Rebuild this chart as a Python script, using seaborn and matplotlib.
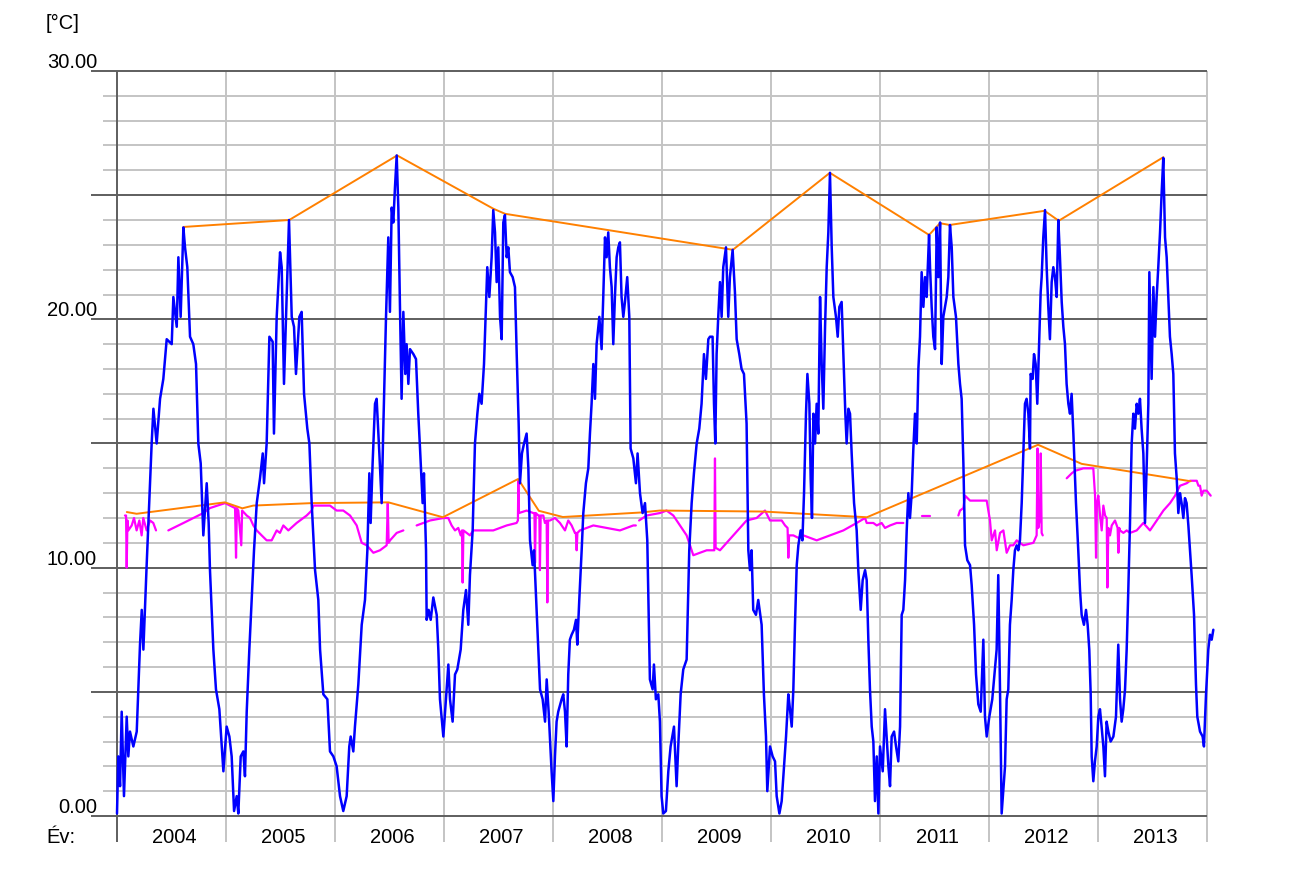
import numpy as np
import pandas as pd
import matplotlib
matplotlib.use("Agg")
import matplotlib.pyplot as plt
import seaborn as sns

# --- adatok (leolvasva az ábráról) ---
# kék: napi vízhőmérséklet, évenként (év, °C)
b2004 = [(2004.000, 0.1), (2004.012, 2.4), (2004.028, 1.2), (2004.043, 4.2), (2004.064, 0.8), (2004.089, 4.0),
         (2004.104, 2.4), (2004.119, 3.4), (2004.150, 2.8), (2004.181, 3.4), (2004.211, 6.9), (2004.227, 8.3),
         (2004.242, 6.7), (2004.272, 10.1), (2004.303, 13.4), (2004.318, 15.0), (2004.334, 16.4), (2004.364, 15.0),
         (2004.395, 16.8), (2004.425, 17.6), (2004.456, 19.2), (2004.502, 19.0), (2004.517, 20.9), (2004.548, 19.7),
         (2004.563, 22.5), (2004.584, 20.1), (2004.609, 23.7), (2004.624, 22.9), (2004.645, 22.1), (2004.670, 19.3),
         (2004.700, 19.0), (2004.725, 18.2), (2004.746, 15.0), (2004.768, 14.2), (2004.792, 11.3), (2004.823, 13.4),
         (2004.841, 11.8), (2004.853, 9.9), (2004.884, 6.7), (2004.908, 5.1), (2004.939, 4.3), (2004.976, 1.8)]
b2005 = [(2005.006, 3.6), (2005.031, 3.2), (2005.052, 2.4), (2005.074, 0.2), (2005.098, 0.8), (2005.113, 0.1),
         (2005.135, 2.4), (2005.159, 2.6), (2005.174, 1.6), (2005.190, 4.2), (2005.214, 6.7), (2005.236, 8.7),
         (2005.257, 10.7), (2005.282, 12.6), (2005.312, 13.6), (2005.337, 14.6), (2005.349, 13.4), (2005.373, 15.0),
         (2005.398, 19.3), (2005.428, 19.1), (2005.440, 15.4), (2005.465, 20.1), (2005.496, 22.7), (2005.511, 22.1),
         (2005.532, 17.4), (2005.551, 20.1), (2005.578, 24.0), (2005.603, 20.1), (2005.624, 19.7), (2005.642, 17.8),
         (2005.673, 20.1), (2005.694, 20.3), (2005.716, 17.0), (2005.746, 15.6), (2005.765, 15.0), (2005.786, 12.6),
         (2005.817, 9.9), (2005.847, 8.7), (2005.863, 6.7), (2005.893, 4.9), (2005.930, 4.7), (2005.954, 2.6),
         (2005.985, 2.4)]
b2006 = [(2006.015, 2.0), (2006.046, 0.8), (2006.076, 0.2), (2006.107, 0.8), (2006.131, 2.8), (2006.144, 3.2),
         (2006.168, 2.6), (2006.183, 3.6), (2006.214, 5.3), (2006.245, 7.7), (2006.275, 8.7), (2006.297, 10.7),
         (2006.315, 13.8), (2006.327, 11.8), (2006.345, 14.2), (2006.367, 16.6), (2006.382, 16.8), (2006.407, 14.6),
         (2006.428, 12.6), (2006.443, 15.6), (2006.468, 20.1), (2006.489, 23.3), (2006.504, 20.3), (2006.520, 24.5),
         (2006.535, 23.9), (2006.550, 25.3), (2006.566, 26.6), (2006.581, 24.5), (2006.596, 20.5), (2006.611, 16.8),
         (2006.627, 20.3), (2006.645, 17.8), (2006.657, 19.0), (2006.673, 17.4), (2006.688, 18.8), (2006.719, 18.6),
         (2006.743, 18.4), (2006.764, 16.2), (2006.780, 14.8), (2006.804, 12.6), (2006.816, 13.8), (2006.835, 10.7),
         (2006.841, 7.9), (2006.859, 8.3), (2006.878, 7.9), (2006.902, 8.8), (2006.933, 8.1), (2006.948, 6.7),
         (2006.963, 4.7), (2006.994, 3.2)]
b2007 = [(2007.018, 4.7), (2007.040, 6.1), (2007.055, 4.7), (2007.079, 3.8), (2007.101, 5.7), (2007.122, 5.9),
         (2007.153, 6.7), (2007.177, 8.3), (2007.202, 9.1), (2007.223, 7.7), (2007.238, 9.7), (2007.263, 11.5),
         (2007.284, 15.0), (2007.306, 16.2), (2007.324, 17.0), (2007.345, 16.6), (2007.367, 18.2), (2007.385, 20.5),
         (2007.397, 22.1), (2007.416, 20.9), (2007.437, 22.5), (2007.452, 24.4), (2007.468, 23.5), (2007.483, 21.5),
         (2007.498, 22.9), (2007.514, 20.1), (2007.529, 19.2), (2007.544, 23.9), (2007.559, 24.2), (2007.575, 22.5),
         (2007.590, 22.9), (2007.605, 21.9), (2007.630, 21.7), (2007.651, 21.3), (2007.667, 18.6), (2007.685, 15.8),
         (2007.697, 13.4), (2007.715, 14.6), (2007.734, 15.0), (2007.758, 15.4), (2007.774, 14.0), (2007.789, 11.1),
         (2007.813, 10.1), (2007.826, 10.7), (2007.850, 8.3), (2007.881, 5.1), (2007.905, 4.7), (2007.927, 3.8),
         (2007.942, 5.5), (2007.960, 4.2), (2007.987, 1.8)]
b2008 = [(2008.003, 0.6), (2008.018, 2.4), (2008.033, 3.8), (2008.048, 4.2), (2008.079, 4.7), (2008.094, 4.9),
         (2008.110, 4.2), (2008.125, 2.8), (2008.140, 5.7), (2008.155, 7.1), (2008.171, 7.3), (2008.192, 7.5),
         (2008.211, 7.9), (2008.223, 6.9), (2008.241, 8.7), (2008.263, 10.7), (2008.278, 12.2), (2008.302, 13.4),
         (2008.324, 14.0), (2008.339, 15.4), (2008.354, 16.6), (2008.370, 18.2), (2008.385, 16.8), (2008.400, 19.0),
         (2008.425, 20.1), (2008.446, 18.8), (2008.461, 20.9), (2008.477, 23.3), (2008.492, 22.5), (2008.507, 23.5),
         (2008.522, 22.1), (2008.538, 21.3), (2008.553, 19.0), (2008.568, 20.9), (2008.584, 22.5), (2008.599, 22.9),
         (2008.614, 23.1), (2008.629, 20.9), (2008.645, 20.1), (2008.660, 20.7), (2008.681, 21.7), (2008.700, 20.1),
         (2008.712, 14.8), (2008.737, 14.4), (2008.761, 13.4), (2008.776, 14.6), (2008.798, 13.0), (2008.822, 12.2),
         (2008.844, 12.6), (2008.865, 11.1), (2008.889, 5.5), (2008.914, 5.1), (2008.926, 6.1), (2008.944, 4.7),
         (2008.966, 4.9), (2008.981, 3.8), (2008.996, 0.8)]
b2009 = [(2009.012, 0.1), (2009.036, 0.2), (2009.058, 1.8), (2009.079, 2.8), (2009.110, 3.6), (2009.134, 1.2),
         (2009.149, 2.8), (2009.171, 4.9), (2009.195, 5.9), (2009.226, 6.3), (2009.250, 10.7), (2009.272, 12.6),
         (2009.293, 13.8), (2009.318, 15.0), (2009.342, 15.6), (2009.363, 16.6), (2009.385, 18.6), (2009.403, 17.6),
         (2009.425, 19.2), (2009.440, 19.3), (2009.464, 19.3), (2009.477, 16.6), (2009.489, 15.0), (2009.501, 18.6),
         (2009.516, 20.1), (2009.532, 21.5), (2009.547, 20.1), (2009.562, 22.1), (2009.587, 22.9), (2009.608, 20.1),
         (2009.623, 21.7), (2009.648, 22.8), (2009.669, 21.1), (2009.685, 19.2), (2009.709, 18.6), (2009.730, 18.0),
         (2009.752, 17.8), (2009.776, 15.8), (2009.792, 10.7), (2009.807, 9.9), (2009.822, 10.7), (2009.837, 8.3),
         (2009.862, 8.1), (2009.883, 8.7), (2009.914, 7.7), (2009.935, 4.9), (2009.954, 3.2), (2009.966, 1.0),
         (2009.991, 2.8)]
b2010 = [(2010.015, 2.4), (2010.037, 2.2), (2010.052, 0.8), (2010.077, 0.1), (2010.098, 0.6), (2010.119, 2.0),
         (2010.138, 3.2), (2010.159, 4.9), (2010.174, 4.3), (2010.190, 3.6), (2010.205, 5.1), (2010.220, 7.7),
         (2010.236, 10.1), (2010.251, 10.9), (2010.272, 11.5), (2010.288, 11.1), (2010.303, 13.0), (2010.321, 16.2),
         (2010.334, 17.8), (2010.352, 16.6), (2010.364, 13.6), (2010.376, 12.0), (2010.389, 16.2), (2010.404, 15.0),
         (2010.419, 16.6), (2010.434, 15.4), (2010.450, 20.9), (2010.465, 18.2), (2010.480, 16.4), (2010.496, 19.7),
         (2010.511, 22.1), (2010.526, 23.5), (2010.541, 25.9), (2010.557, 22.9), (2010.572, 20.9), (2010.596, 20.1),
         (2010.612, 19.3), (2010.627, 20.5), (2010.648, 20.7), (2010.664, 18.6), (2010.682, 16.2), (2010.694, 15.0),
         (2010.710, 16.4), (2010.725, 16.2), (2010.740, 14.6), (2010.762, 12.6), (2010.786, 11.5), (2010.801, 9.9),
         (2010.823, 8.3), (2010.841, 9.5), (2010.863, 9.9), (2010.878, 9.5), (2010.893, 7.1), (2010.908, 5.1),
         (2010.924, 3.6), (2010.939, 3.0), (2010.954, 0.6), (2010.970, 2.4), (2010.985, 0.1)]
b2011 = [(2011.000, 2.8), (2011.025, 1.8), (2011.046, 4.3), (2011.061, 3.2), (2011.077, 2.0), (2011.092, 1.2),
         (2011.107, 3.2), (2011.129, 3.4), (2011.147, 2.8), (2011.168, 2.2), (2011.184, 3.6), (2011.199, 8.1),
         (2011.214, 8.3), (2011.230, 9.5), (2011.245, 11.5), (2011.260, 13.0), (2011.275, 12.0), (2011.291, 13.0),
         (2011.306, 14.8), (2011.321, 16.2), (2011.337, 15.0), (2011.352, 18.0), (2011.367, 19.3), (2011.382, 21.9),
         (2011.398, 20.5), (2011.413, 21.7), (2011.428, 20.9), (2011.450, 23.4), (2011.459, 22.1), (2011.474, 20.5),
         (2011.489, 19.3), (2011.505, 18.8), (2011.520, 23.7), (2011.535, 21.7), (2011.551, 23.9), (2011.566, 18.2),
         (2011.581, 20.1), (2011.596, 20.5), (2011.612, 20.9), (2011.627, 21.7), (2011.642, 23.8), (2011.658, 22.9),
         (2011.673, 20.9), (2011.697, 20.1), (2011.719, 18.2), (2011.734, 17.4), (2011.749, 16.8), (2011.765, 14.2),
         (2011.780, 10.9), (2011.801, 10.3), (2011.826, 10.1), (2011.841, 9.3), (2011.863, 7.7), (2011.881, 5.7),
         (2011.902, 4.5), (2011.924, 4.2), (2011.948, 7.1), (2011.963, 4.0), (2011.979, 3.2), (2012.003, 4.0)]
b2012 = [(2012.030, 4.7), (2012.070, 6.7), (2012.085, 9.7), (2012.101, 5.1), (2012.116, 0.1), (2012.147, 2.0),
         (2012.162, 4.7), (2012.177, 5.1), (2012.192, 7.7), (2012.208, 8.7), (2012.223, 9.9), (2012.238, 10.7),
         (2012.254, 10.9), (2012.269, 10.7), (2012.284, 11.1), (2012.300, 12.6), (2012.315, 14.6), (2012.330, 16.6),
         (2012.345, 16.8), (2012.361, 16.2), (2012.376, 14.8), (2012.382, 17.8), (2012.400, 17.6), (2012.413, 18.6),
         (2012.428, 18.2), (2012.443, 16.6), (2012.462, 19.3), (2012.474, 21.1), (2012.483, 21.7), (2012.498, 23.3),
         (2012.514, 24.4), (2012.529, 22.1), (2012.544, 20.5), (2012.559, 19.2), (2012.575, 21.5), (2012.590, 22.1),
         (2012.605, 21.7), (2012.621, 20.9), (2012.636, 24.0), (2012.651, 22.5), (2012.667, 20.7), (2012.682, 19.7),
         (2012.697, 19.0), (2012.712, 17.4), (2012.728, 16.6), (2012.743, 16.2), (2012.758, 17.0), (2012.774, 15.4),
         (2012.798, 12.6), (2012.819, 10.7), (2012.835, 9.1), (2012.850, 8.1), (2012.871, 7.7), (2012.890, 8.3),
         (2012.905, 7.7), (2012.920, 6.7), (2012.933, 4.9), (2012.942, 2.4), (2012.957, 1.4), (2012.972, 2.2),
         (2012.988, 2.8)]
b2013 = [(2013.003, 4.0), (2013.018, 4.3), (2013.033, 3.6), (2013.049, 2.8), (2013.064, 1.6), (2013.079, 3.8),
         (2013.095, 3.4), (2013.116, 3.0), (2013.141, 3.2), (2013.165, 4.0), (2013.186, 6.9), (2013.202, 4.7),
         (2013.217, 3.8), (2013.232, 4.3), (2013.248, 5.1), (2013.263, 6.7), (2013.278, 9.1), (2013.293, 11.7),
         (2013.309, 15.0), (2013.324, 16.2), (2013.339, 15.6), (2013.355, 16.6), (2013.370, 16.2), (2013.385, 16.8),
         (2013.400, 15.6), (2013.416, 14.6), (2013.431, 11.8), (2013.446, 14.0), (2013.462, 16.6), (2013.471, 21.9),
         (2013.483, 19.5), (2013.492, 17.6), (2013.508, 21.3), (2013.523, 19.3), (2013.538, 20.9), (2013.553, 22.1),
         (2013.569, 23.5), (2013.584, 25.1), (2013.599, 26.5), (2013.615, 23.3), (2013.630, 22.5), (2013.645, 20.9),
         (2013.660, 19.3), (2013.676, 18.6), (2013.691, 17.8), (2013.706, 14.6), (2013.722, 13.6), (2013.737, 12.2),
         (2013.752, 13.0), (2013.767, 12.6), (2013.783, 12.0), (2013.798, 12.8), (2013.813, 12.6), (2013.829, 11.7),
         (2013.844, 10.7), (2013.859, 9.7), (2013.881, 8.1), (2013.899, 5.3), (2013.911, 4.0), (2013.936, 3.4),
         (2013.960, 3.2), (2013.972, 2.8), (2013.991, 4.9), (2014.012, 6.7), (2014.027, 7.3), (2014.043, 7.1),
         (2014.058, 7.5)]

# lila: másik mérési pont, szakaszokban (hiányos adatsor)
mag_a = [(2004.073, 12.1), (2004.083, 12.1), (2004.089, 10.0), (2004.096, 11.9), (2004.104, 11.5), (2004.135, 11.7),
         (2004.156, 12.0), (2004.180, 11.5), (2004.205, 11.9), (2004.226, 11.3), (2004.241, 12.0), (2004.272, 11.5),
         (2004.303, 11.9), (2004.333, 11.8), (2004.358, 11.5)]
mag_b = [(2004.471, 11.5), (2004.610, 11.8), (2004.792, 12.2), (2004.853, 12.4), (2004.991, 12.6), (2005.037, 12.5),
         (2005.083, 12.4), (2005.092, 10.4), (2005.100, 12.4), (2005.113, 12.3), (2005.140, 10.9), (2005.148, 12.3),
         (2005.190, 12.1), (2005.220, 12.0), (2005.251, 11.7), (2005.282, 11.5), (2005.327, 11.3), (2005.373, 11.1),
         (2005.419, 11.1), (2005.465, 11.5), (2005.495, 11.4), (2005.526, 11.7), (2005.572, 11.5), (2005.648, 11.8),
         (2005.740, 12.1), (2005.786, 12.3), (2005.801, 12.5), (2005.862, 12.5), (2005.954, 12.5), (2006.015, 12.3),
         (2006.076, 12.3), (2006.138, 12.1), (2006.199, 11.7), (2006.245, 11.0), (2006.291, 10.9), (2006.352, 10.6),
         (2006.413, 10.7), (2006.474, 10.9), (2006.484, 12.6), (2006.492, 11.0), (2006.505, 11.1), (2006.566, 11.4),
         (2006.627, 11.5)]
mag_c = [(2006.749, 11.7), (2006.872, 11.9), (2006.994, 12.0), (2007.039, 12.0), (2007.070, 11.7), (2007.101, 11.5),
         (2007.131, 11.6), (2007.153, 11.3), (2007.165, 11.5), (2007.171, 9.4), (2007.178, 11.5), (2007.208, 11.4),
         (2007.238, 11.3), (2007.269, 11.5), (2007.361, 11.5), (2007.452, 11.5), (2007.575, 11.7), (2007.666, 11.8),
         (2007.678, 11.9), (2007.682, 13.5), (2007.688, 12.2), (2007.758, 12.3), (2007.819, 12.2), (2007.830, 12.2),
         (2007.835, 10.2), (2007.842, 12.2), (2007.865, 12.1), (2007.875, 12.1), (2007.880, 9.9), (2007.887, 12.1),
         (2007.911, 12.1), (2007.926, 11.8), (2007.942, 11.9), (2007.948, 8.6), (2007.955, 11.9), (2007.972, 11.9),
         (2008.018, 12.0), (2008.064, 11.8), (2008.110, 11.5), (2008.140, 11.9), (2008.171, 11.7), (2008.201, 11.4),
         (2008.210, 11.4), (2008.217, 10.7), (2008.224, 11.4), (2008.247, 11.5), (2008.309, 11.6), (2008.370, 11.7),
         (2008.492, 11.6), (2008.614, 11.5), (2008.737, 11.7), (2008.760, 11.7)]
mag_d = [(2008.790, 11.9), (2008.859, 12.1), (2008.981, 12.2), (2009.042, 12.3), (2009.104, 12.1), (2009.165, 11.7),
         (2009.226, 11.3), (2009.257, 10.9), (2009.287, 10.5), (2009.348, 10.6), (2009.410, 10.7), (2009.471, 10.7),
         (2009.480, 10.7), (2009.486, 14.4), (2009.492, 10.8), (2009.532, 10.7), (2009.593, 11.0), (2009.654, 11.3),
         (2009.715, 11.6), (2009.776, 11.9), (2009.868, 12.0), (2009.945, 12.3), (2009.991, 11.9), (2010.022, 11.9),
         (2010.052, 11.9), (2010.098, 11.9), (2010.129, 11.7), (2010.152, 11.6), (2010.159, 10.4), (2010.166, 11.3),
         (2010.205, 11.3), (2010.251, 11.2), (2010.297, 11.3), (2010.358, 11.2), (2010.419, 11.1), (2010.541, 11.3),
         (2010.664, 11.5), (2010.786, 11.8), (2010.863, 12.0), (2010.878, 11.8), (2010.939, 11.8), (2010.970, 11.7),
         (2011.015, 11.8), (2011.046, 11.6), (2011.092, 11.7), (2011.153, 11.8), (2011.214, 11.8)]
mag_e = [(2011.382, 12.1), (2011.459, 12.1)]
mag_f = [(2011.719, 12.1), (2011.734, 12.3), (2011.765, 12.4), (2011.780, 12.9), (2011.826, 12.7), (2011.887, 12.7),
         (2011.979, 12.7), (2012.009, 11.9), (2012.025, 11.1), (2012.055, 11.5), (2012.071, 10.7), (2012.101, 11.4),
         (2012.132, 11.5), (2012.162, 10.6), (2012.193, 10.9), (2012.223, 10.9), (2012.254, 11.1), (2012.315, 10.9),
         (2012.407, 11.0), (2012.437, 11.3), (2012.445, 14.8), (2012.452, 11.6), (2012.468, 12.0), (2012.475, 14.6),
         (2012.483, 11.4), (2012.493, 11.3)]
mag_g = [(2012.713, 13.6), (2012.759, 13.8), (2012.789, 13.9), (2012.866, 14.0), (2012.957, 14.0), (2012.973, 12.9),
         (2012.982, 10.4), (2012.990, 12.6), (2013.003, 12.9), (2013.019, 12.1), (2013.034, 11.5), (2013.049, 12.5),
         (2013.065, 12.1), (2013.080, 12.0), (2013.086, 9.2), (2013.095, 11.6), (2013.110, 11.3), (2013.126, 11.7),
         (2013.156, 11.9), (2013.180, 11.6), (2013.187, 10.6), (2013.195, 11.6), (2013.202, 11.5), (2013.233, 11.4),
         (2013.263, 11.5), (2013.294, 11.4), (2013.355, 11.5), (2013.416, 11.8), (2013.477, 11.5), (2013.539, 11.9),
         (2013.600, 12.3), (2013.661, 12.6), (2013.707, 12.9), (2013.728, 13.1), (2013.753, 13.3), (2013.814, 13.4),
         (2013.844, 13.5), (2013.906, 13.5), (2013.921, 13.3), (2013.936, 13.3), (2013.951, 12.9), (2013.967, 13.1),
         (2013.997, 13.1), (2014.034, 12.9)]

# narancs: maximum-burkolók
max_felso = [(2004.61, 23.72), (2005.58, 24.0), (2006.57, 26.6), (2007.45, 24.46), (2007.56, 24.25), (2009.65, 22.8),
             (2010.54, 25.9), (2011.45, 23.4), (2011.55, 23.87), (2011.64, 23.8), (2012.51, 24.37), (2012.64, 23.97),
             (2013.60, 26.53)]
max_also = [(2004.09, 12.24), (2004.18, 12.17), (2004.99, 12.63), (2005.15, 12.39), (2005.25, 12.5), (2005.79, 12.6),
            (2006.49, 12.63), (2006.99, 12.03), (2007.68, 13.57), (2007.87, 12.29), (2008.09, 12.04), (2008.80, 12.22),
            (2008.98, 12.3), (2009.93, 12.26), (2010.88, 12.03), (2012.45, 14.95), (2012.85, 14.18), (2013.85, 13.48)]

evek = list(range(2004, 2014))
y_feliratok = [0, 10, 20, 30]

# --- DataFrame-ek ---
kek = pd.DataFrame(b2004 + b2005 + b2006 + b2007 + b2008 + b2009 + b2010 + b2011 + b2012 + b2013,
                   columns=["t", "v"])
lila = pd.concat([pd.DataFrame(s, columns=["t", "v"]).assign(seg=i)
                  for i, s in enumerate([mag_a, mag_b, mag_c, mag_d, mag_e, mag_f, mag_g])])
felso = pd.DataFrame(max_felso, columns=["t", "v"])
also = pd.DataFrame(max_also, columns=["t", "v"])

# --- rajz ---
sns.set_style("white")
plt.rcParams["font.family"] = ["Liberation Sans", "DejaVu Sans"]

W, H = 1301, 871
fig = plt.figure(figsize=(W / 100, H / 100), dpi=100)
ax = fig.add_axes([117 / W, 1 - 816 / H, (1207 - 117) / W, (816 - 71) / H])
ax.set_xlim(2004, 2014)
ax.set_ylim(0, 30)
ax.set_axis_off()

px = 1 / 109      # év / pixel
py = 30 / 745     # °C / pixel
sotet = "#5e5e5e"
vilagos = "#c4c4c4"

kis = [k for k in range(31) if k % 5]
nagy = list(range(0, 31, 5))
ax.hlines(kis, 2004 - 14 * px, 2014, colors=vilagos, lw=1.4, clip_on=False, zorder=1)
ax.vlines(range(2005, 2015), -26 * py, 30, colors=vilagos, lw=1.4, clip_on=False, zorder=1.1)
ax.hlines(nagy, 2004 - 26 * px, 2014, colors=sotet, lw=1.4, clip_on=False, zorder=1.2)
ax.vlines(2004, -26 * py, 30, colors=sotet, lw=1.4, clip_on=False, zorder=1.3)

sns.lineplot(data=lila, x="t", y="v", units="seg", estimator=None, sort=False,
             color="#ff00ff", lw=1.6, ax=ax, legend=False, zorder=2)
sns.lineplot(data=felso, x="t", y="v", estimator=None, sort=False,
             color="#ff8000", lw=1.4, ax=ax, legend=False, zorder=3)
sns.lineplot(data=also, x="t", y="v", estimator=None, sort=False,
             color="#ff8000", lw=1.4, ax=ax, legend=False, zorder=3)
sns.lineplot(data=kek, x="t", y="v", estimator=None, sort=False,
             color="#0000ff", lw=1.8, ax=ax, legend=False, zorder=4)
for ln in ax.lines:
    ln.set_clip_on(False)

fs = 14.5
for v in y_feliratok:
    ax.text(2004 - 20 * px, v + 3 * py, f"{v:.2f}", ha="right", va="baseline", fontsize=fs, color="black")
ax.text(2004 - 71 * px, 30 + 42 * py, "[°C]", ha="left", va="baseline", fontsize=fs, color="black")
ax.text(2004 - 71 * px, -27 * py, "Év:", ha="left", va="baseline", fontsize=fs, color="black")
for e in evek:
    ax.text(e + 0.525, -27 * py, str(e), ha="center", va="baseline", fontsize=fs, color="black")

fig.savefig("out.png", dpi=100)
